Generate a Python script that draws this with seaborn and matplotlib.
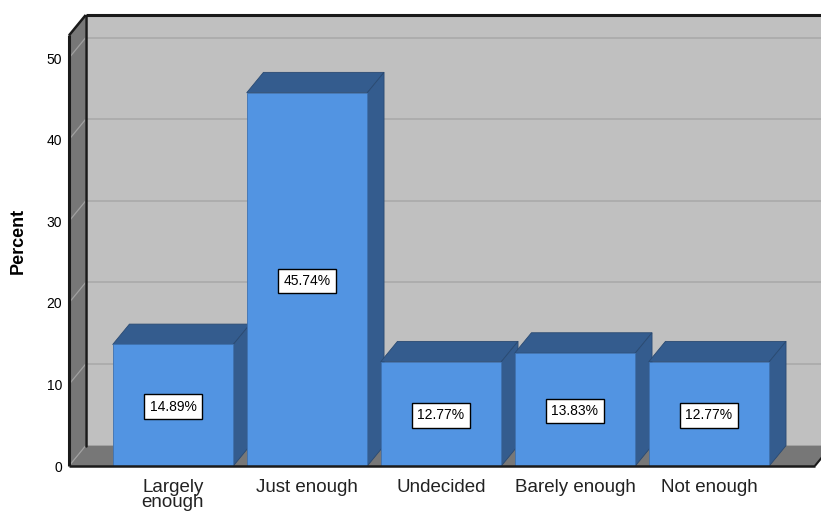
import matplotlib
matplotlib.use("Agg")
import matplotlib.pyplot as plt
from matplotlib.patches import Polygon
import pandas as pd
import seaborn as sns

categories = ["Largely\nenough", "Just enough", "Undecided", "Barely enough", "Not enough"]
percents = [14.89, 45.74, 12.77, 13.83, 12.77]
yticks = [0, 10, 20, 30, 40, 50]

df = pd.DataFrame({"category": categories, "percent": percents})

sns.set_style("white")
plt.rcParams["font.family"] = ["Liberation Sans", "DejaVu Sans"]
plt.rcParams["text.color"] = "black"

front = "#5294E2"
shade = "#345C8E"
wall = "#C0C0C0"
dark_wall = "#777777"

fig = plt.figure(figsize=(8.21, 5.16), dpi=100)
ax = fig.add_axes([69 / 821, 50 / 516, 752 / 821, 451 / 516])

# depth of the fake 3d box (data units)
dx, dy = 0.125, 2.5
xl, xmax = -0.776, 4.836
xr = 4.79
ytop = 55.27

# walls and floor
ax.add_patch(Polygon([(xl + dx, dy), (xr + dx, dy), (xr + dx, ytop), (xl + dx, ytop)],
                     closed=True, fc=wall, ec="none", zorder=0))
ax.add_patch(Polygon([(xl, 0), (xl + dx, dy), (xl + dx, ytop), (xl, ytop - dy)],
                     closed=True, fc=dark_wall, ec="none", zorder=1))
ax.add_patch(Polygon([(xl, 0), (xr, 0), (xr + dx, dy), (xl + dx, dy)],
                     closed=True, fc=dark_wall, ec="none", zorder=1))

# gridlines on back wall + left wall
for v in yticks:
    if v > 0:
        ax.plot([xl + dx, xr + dx], [v + dy, v + dy], color="#AAAAAA", lw=1.2, zorder=0.5)
    ax.plot([xl, xl + dx], [v, v + dy], color="#A0A0A0", lw=0.9, zorder=1.5)

# frame edges
k = dict(color="#1A1A1A", zorder=6, clip_on=False, solid_capstyle="butt")
ax.plot([xl, xl], [0, ytop - dy], lw=2.2, **k)
ax.plot([xl, xl + dx], [ytop - dy, ytop], lw=1.8, **k)
ax.plot([xl + dx, xr + dx], [ytop, ytop], lw=2.2, **k)
ax.plot([xl + dx, xl + dx], [dy, ytop], lw=1.8, color="#1A1A1A", zorder=1.6)
ax.plot([xl, xr], [0, 0], lw=1.8, **k)
ax.plot([xr, xr + dx], [0, dy], lw=1.5, **k)

# bar tops and sides
w = 0.45
for i, v in enumerate(percents):
    ax.add_patch(Polygon([(i - w, v), (i - w + dx, v + dy), (i + w + dx, v + dy), (i + w, v)],
                         closed=True, fc=shade, ec="#2A4A72", lw=0.6, zorder=3))
    ax.add_patch(Polygon([(i + w, 0), (i + w + dx, dy), (i + w + dx, v + dy), (i + w, v)],
                         closed=True, fc=shade, ec="#2A4A72", lw=0.6, zorder=3))

sns.barplot(data=df, x="category", y="percent", color=front, width=0.9,
            saturation=1, edgecolor="#3F72B0", linewidth=0.6, zorder=5, ax=ax)

for i, v in enumerate(percents):
    ax.text(i, v / 2, f"{v:.2f}%", ha="center", va="center_baseline", fontsize=10,
            color="black", zorder=7,
            bbox=dict(boxstyle="square,pad=0.38", fc="white", ec="black", lw=1))

ax.set_xlim(xl, xmax)
ax.set_ylim(0, ytop)
ax.set_yticks(yticks)
ax.set_yticklabels([str(t) for t in yticks], fontsize=10)
ax.tick_params(axis="both", length=0)
ax.tick_params(axis="y", pad=5, labelcolor="black")
ax.tick_params(axis="x", pad=9, labelsize=13.5, labelcolor="#222222")
for lab in ax.get_xticklabels():
    lab.set_linespacing(0.85)
ax.set_xlabel("")
ax.set_ylabel("Percent", fontsize=13, fontweight="bold", labelpad=14, color="black")
for s in ax.spines.values():
    s.set_visible(False)

fig.savefig("out.png", dpi=100)
